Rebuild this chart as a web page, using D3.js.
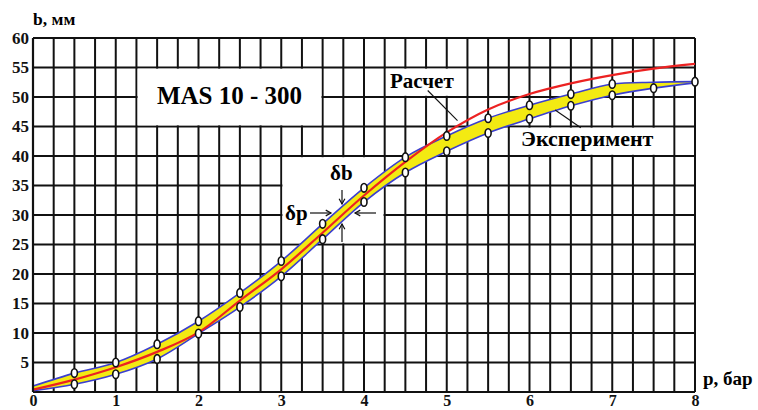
<!DOCTYPE html>
<html>
<head>
<meta charset="utf-8">
<script src="https://cdn.jsdelivr.net/npm/d3@7"></script>
<style>
  body { margin: 0; background: #fff; }
</style>
</head>
<body>
<div id="chart"></div>
<script>
const SERIF = "'Liberation Serif', 'DejaVu Serif', 'Times New Roman', serif";

// p, бар
const pValues = [0, 0.5, 1, 1.5, 2, 2.5, 3, 3.5, 4, 4.5, 5, 5.5, 6, 6.5, 7, 7.5, 8];
// Расчет (calculated), b, мм
const calcB = [0.4, 2.1, 4.2, 6.8, 10.1, 15.5, 20.8, 27.0, 33.3, 39.0, 44.0, 47.9, 50.5, 52.3, 53.7, 54.8, 55.6];
// Эксперимент, upper and lower bound
const expUpper = [1.0, 3.2, 5.0, 8.1, 12.0, 16.8, 22.2, 28.5, 34.6, 39.8, 43.4, 46.4, 48.6, 50.5, 52.2, 52.5, 52.6];
const expLower = [0.2, 1.3, 3.0, 5.6, 9.9, 14.4, 19.6, 25.9, 32.2, 37.2, 40.8, 43.9, 46.3, 48.5, 50.3, 51.5, 52.4];
// which measured points carry a marker
const upperMarked = [0, 1, 1, 1, 1, 1, 1, 1, 1, 1, 1, 1, 1, 1, 1, 0, 1];
const lowerMarked = [0, 1, 1, 1, 1, 1, 1, 1, 1, 1, 1, 1, 1, 1, 1, 1, 0];

const xTicks = [0, 1, 2, 3, 4, 5, 6, 7, 8];
const yTicks = [5, 10, 15, 20, 25, 30, 35, 40, 45, 50, 55, 60];

const width = 758, height = 410;
const svg = d3.select("#chart").append("svg")
    .attr("width", width)
    .attr("height", height)
    .attr("font-family", SERIF)
    .attr("font-weight", "bold");
svg.append("rect").attr("width", width).attr("height", height).attr("fill", "#fff");

const x = d3.scaleLinear().domain([0, 8]).range([33, 695]);
const y = d3.scaleLinear().domain([0, 60]).range([392, 38]);

// grid
let grid = svg.append("g").attr("stroke", "#111").attr("stroke-width", 2);
grid.selectAll(".v").data(d3.range(0, 8.001, 0.25)).join("line")
    .attr("x1", d => x(d)).attr("x2", d => x(d))
    .attr("y1", y(0)).attr("y2", y(60));
grid.selectAll(".h").data(d3.range(0, 60.1, 5)).join("line")
    .attr("x1", x(0)).attr("x2", x(8))
    .attr("y1", d => y(d)).attr("y2", d => y(d));

// white label boxes (in data units, edges stay on grid lines)
const boxes = [
    {p0: 1.25, p1: 3.5, b0: 45, b1: 55},
    {p0: 3.0, p1: 4.25, b0: 25, b1: 40},
    {p0: 4.25, p1: 5.25, b0: 50, b1: 55},
    {p0: 5.75, p1: 7.75, b0: 40, b1: 45}
];
svg.append("g").selectAll("rect").data(boxes).join("rect")
    .attr("x", d => x(d.p0) + 1.2)
    .attr("y", d => y(d.b1) + 1.2)
    .attr("width", d => x(d.p1) - x(d.p0) - 2.4)
    .attr("height", d => y(d.b0) - y(d.b1) - 2.4)
    .attr("fill", "#fff");

const idx = d3.range(pValues.length);
const curve = d3.curveCatmullRom.alpha(0.5);

// yellow experimental band
const band = d3.area()
    .x(i => x(pValues[i]))
    .y0(i => y(expLower[i]))
    .y1(i => y(expUpper[i]))
    .curve(curve);
svg.append("path").datum(idx).attr("d", band).attr("fill", "#f3ea12");

const lineOf = arr => d3.line().x(i => x(pValues[i])).y(i => y(arr[i])).curve(curve);
[expUpper, expLower].forEach(arr => {
    svg.append("path").datum(idx).attr("d", lineOf(arr))
        .attr("fill", "none").attr("stroke", "#3b3fd0").attr("stroke-width", 1.6);
});
svg.append("path").datum(idx).attr("d", lineOf(calcB))
    .attr("fill", "none").attr("stroke", "#ec2222").attr("stroke-width", 2.2);

// measured point markers
const marks = [];
idx.forEach(i => {
    if (upperMarked[i]) marks.push({p: pValues[i], b: expUpper[i]});
    if (lowerMarked[i]) marks.push({p: pValues[i], b: expLower[i]});
});
svg.append("g").selectAll("ellipse").data(marks).join("ellipse")
    .attr("cx", d => x(d.p)).attr("cy", d => y(d.b))
    .attr("rx", 3).attr("ry", 4.3)
    .attr("fill", "#fff").attr("stroke", "#111").attr("stroke-width", 1.6);

// axes (labels only)
const xAxis = svg.append("g").attr("transform", `translate(0,${y(0)})`)
    .call(d3.axisBottom(x).tickValues(xTicks).tickSize(0).tickPadding(3).tickFormat(d3.format("d")));
xAxis.select(".domain").remove();
xAxis.attr("font-family", SERIF).attr("font-weight", "bold");
xAxis.selectAll("text").attr("font-size", 16).attr("fill", "#111");

const yAxis = svg.append("g").attr("transform", `translate(${x(0)},0)`)
    .call(d3.axisLeft(y).tickValues(yTicks).tickSize(0).tickPadding(4).tickFormat(d3.format("d")));
yAxis.select(".domain").remove();
yAxis.attr("font-family", SERIF).attr("font-weight", "bold");
yAxis.selectAll("text").attr("font-size", 17).attr("fill", "#111");

svg.append("line").attr("x1", x(0)).attr("x2", x(0)).attr("y1", y(0)).attr("y2", y(60))
    .attr("stroke", "#111").attr("stroke-width", 2.2);

// titles
svg.append("text").attr("x", 33).attr("y", 25).attr("font-size", 17.5).text("b, мм");
svg.append("text").attr("x", 703).attr("y", 385).attr("font-size", 19).text("p, бар");
svg.append("text").attr("x", x(2.375)).attr("y", 104).attr("text-anchor", "middle")
    .attr("font-size", 25).text("MAS 10 - 300");

// series labels with leader lines
let ann = svg.append("g");
ann.append("text").attr("x", 390).attr("y", 88).attr("font-size", 21).text("Расчет");
ann.append("text").attr("x", 521).attr("y", 146).attr("font-size", 22).text("Эксперимент");
ann.append("line").attr("x1", x(4.77)).attr("y1", y(51.1)).attr("x2", x(5.13)).attr("y2", y(46))
    .attr("stroke", "#111").attr("stroke-width", 1.1);
ann.append("line").attr("x1", x(6.31)).attr("y1", y(47.8)).attr("x2", x(6.62)).attr("y2", y(44.8))
    .attr("stroke", "#111").attr("stroke-width", 1.1);

// δb / δp arrows
ann.append("text").attr("x", 330).attr("y", 180).attr("font-size", 21).text("δb");
ann.append("text").attr("x", 285).attr("y", 220).attr("font-size", 21).text("δp");
const arrows = [
    [[342, 190], [342, 204]],
    [[342, 242], [342, 224]],
    [[310, 213], [331, 213]],
    [[376, 213], [355, 213]]
];
arrows.forEach(([a, b]) => {
    ann.append("line").attr("x1", a[0]).attr("y1", a[1]).attr("x2", b[0]).attr("y2", b[1])
        .attr("stroke", "#111").attr("stroke-width", 1.2);
    const ang = Math.atan2(b[1] - a[1], b[0] - a[0]);
    const h = 6, w = 0.5;
    ann.append("path")
        .attr("d", `M${b[0] - h * Math.cos(ang - w)},${b[1] - h * Math.sin(ang - w)}L${b[0]},${b[1]}L${b[0] - h * Math.cos(ang + w)},${b[1] - h * Math.sin(ang + w)}`)
        .attr("fill", "none").attr("stroke", "#111").attr("stroke-width", 1.2);
});
</script>
</body>
</html>
